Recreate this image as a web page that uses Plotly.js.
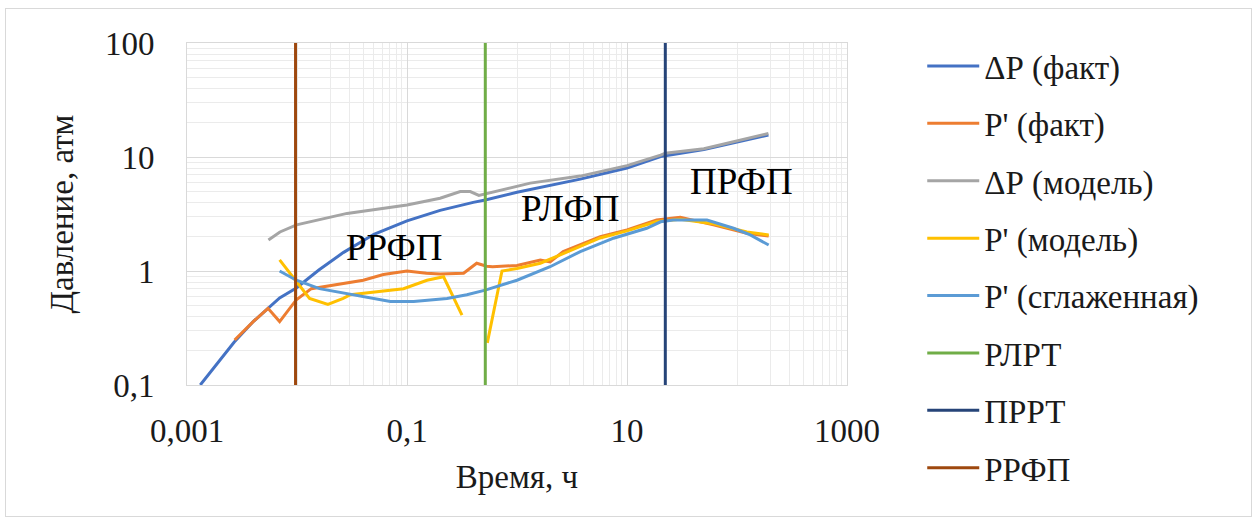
<!DOCTYPE html>
<html>
<head>
<meta charset="utf-8">
<script src="https://cdn.plot.ly/plotly-3.0.1.min.js"></script>
<style>
  html, body { margin: 0; padding: 0; background: #fff; }
  #wrap { position: relative; width: 1259px; height: 524px; }
  #chart { width: 1259px; height: 524px; }
  #frame { position: absolute; left: 5px; top: 8px; width: 1245px; height: 507px;
           border: 1px solid #d9d9d9; pointer-events: none; }
</style>
</head>
<body>
<div id="wrap"><div id="chart"></div><div id="frame"></div></div>
<script>
// ---- data (time in hours, pressure in atm) ----
const tDPfact = [0.00132, 0.0019, 0.00269, 0.004, 0.00545, 0.00695, 0.00986, 0.0158, 0.0263, 0.05, 0.1, 0.2, 0.4, 0.515, 1, 2, 3.76, 10, 20.2, 50, 100, 193];
const dPfact  = [0.1, 0.154, 0.238, 0.36, 0.47, 0.58, 0.71, 1.02, 1.45, 2.1, 2.75, 3.4, 4.0, 4.2, 4.9, 5.6, 6.4, 8.0, 10.1, 11.6, 13.6, 15.6];

const tPfact = [0.00271, 0.004, 0.00545, 0.00695, 0.00986, 0.0135, 0.04, 0.061, 0.1, 0.15, 0.2, 0.327, 0.43, 0.53, 0.6, 1.0, 1.63, 2.0, 2.63, 3.76, 5.71, 10, 18.6, 30.5, 61, 123, 194];
const pFact  = [0.248, 0.36, 0.47, 0.36, 0.56, 0.70, 0.83, 0.93, 1.0, 0.955, 0.94, 0.955, 1.17, 1.1, 1.09, 1.12, 1.25, 1.2, 1.48, 1.69, 2.0, 2.29, 2.8, 2.96, 2.54, 2.14, 2.03];

const tDPmodel = [0.0055, 0.007, 0.0099, 0.0285, 0.1, 0.2, 0.305, 0.376, 0.45, 0.515, 1.32, 3.76, 10, 20.2, 22.3, 50, 100, 193];
const dPmodel  = [1.87, 2.2, 2.54, 3.2, 3.8, 4.35, 4.97, 4.97, 4.6, 4.75, 5.9, 6.8, 8.4, 10.4, 10.8, 11.8, 13.8, 16.1];

const tPmodel = [0.00695, 0.0106, 0.013, 0.0191, 0.0263, 0.0306, 0.057, 0.093, 0.152, 0.215, 0.316, null, 0.537, 0.73, 1.0, 1.63, 2.63, 3.76, 5.7, 10, 18.6, 30.5, 61, 123, 194];
const pModel  = [1.25, 0.75, 0.575, 0.51, 0.575, 0.62, 0.66, 0.70, 0.83, 0.89, 0.41, null, 0.234, 1.0, 1.05, 1.17, 1.42, 1.65, 1.95, 2.25, 2.72, 2.85, 2.6, 2.2, 2.07];

const tPsmooth = [0.00695, 0.00986, 0.016, 0.0263, 0.0705, 0.115, 0.231, 0.35, 0.515, 1.0, 2.0, 3.76, 7.55, 15.1, 20.2, 26.3, 53.3, 93, 132, 194];
const pSmooth  = [1.0, 0.83, 0.70, 0.64, 0.54, 0.54, 0.575, 0.62, 0.68, 0.83, 1.09, 1.48, 1.94, 2.37, 2.7, 2.8, 2.8, 2.37, 2.07, 1.69];

// regime boundaries (time, h) and vertical extent of their markers
const tRLRT = 0.515;
const tPRRT = 22.3;
const tRRFP = 0.0097;
const vExtent = [0.1, 100];

// region labels
const regionNames = ['РРФП', 'РЛФП', 'ПРФП'];
const regionT = [0.0767, 3.05, 109];
const regionP = [1.62, 3.55, 6.07];

// axis ticks
const xTickVals = [0.001, 0.1, 10, 1000];
const xTickText = ['0,001', '0,1', '10', '1000'];
const xMinorVals = [0.01,0.02,0.03,0.04,0.05,0.06,0.07,0.08,0.09, 1,2,3,4,5,6,7,8,9, 100,200,300,400,500,600,700,800,900];
const yTickVals = [0.1, 1, 10, 100];
const yTickText = ['0,1', '1', '10', '100'];
const yMinorVals = [0.2,0.3,0.4,0.5,0.6,0.7,0.8,0.9, 2,3,4,5,6,7,8,9, 20,30,40,50,60,70,80,90];

const FONT = 'Liberation Serif';
const FS = 33;
const TXT = '#1a1a1a';
const W = 3;

function line(name, x, y, color, group) {
  return { type: 'scatter', mode: 'lines', name: name, x: x, y: y,
           line: { color: color, width: W }, connectgaps: false,
           legendgroup: group, hoverinfo: 'x+y+name' };
}

const traces = [
  line('ΔР (факт)', tDPfact, dPfact, '#4472C4', 'g1'),
  line("Р' (факт)", tPfact, pFact, '#ED7D31', 'g2'),
  line('ΔР (модель)', tDPmodel, dPmodel, '#A5A5A5', 'g3'),
  line("Р' (модель)", tPmodel, pModel, '#FFC000', 'g4'),
  line("Р' (сглаженная)", tPsmooth, pSmooth, '#5B9BD5', 'g5'),
  line('РЛРТ', [tRLRT, tRLRT], vExtent, '#70AD47', 'g6'),
  line('ПРРТ', [tPRRT, tPRRT], vExtent, '#264478', 'g7'),
  line('РРФП', [tRRFP, tRRFP], vExtent, '#9E480E', 'g8')
];

const annotations = regionNames.map((s, i) => ({
  text: s, x: Math.log10(regionT[i]), y: Math.log10(regionP[i]),
  xref: 'x', yref: 'y', showarrow: false,
  font: { family: FONT, size: 37, color: '#000' }
}));

const layout = {
  width: 1259, height: 524,
  margin: { l: 186.7, r: 412.3, t: 43, b: 139 },
  paper_bgcolor: '#fff', plot_bgcolor: '#fff',
  font: { family: FONT, size: FS, color: TXT },
  showlegend: true,
  legend: { x: 1.114, xanchor: 'left', y: 1.0146, yanchor: 'top', maxheight: 520,
            font: { family: FONT, size: FS, color: TXT },
            tracegroupgap: 11.5, itemwidth: 52, bgcolor: 'rgba(0,0,0,0)' },
  xaxis: {
    type: 'log', range: [-3, 3],
    tickmode: 'array', tickvals: xTickVals, ticktext: xTickText,
    showgrid: true, gridcolor: '#d9d9d9', gridwidth: 1,
    minor: { tickmode: 'array', tickvals: xMinorVals, showgrid: true, gridcolor: '#ebebeb', gridwidth: 1, ticks: '' },
    showline: true, linecolor: '#d9d9d9', mirror: true, zeroline: false,
    ticks: '', ticklabelstandoff: 16,
    tickfont: { family: FONT, size: FS, color: TXT },
    title: { text: 'Время, ч', font: { family: FONT, size: FS, color: TXT }, standoff: 17 }
  },
  yaxis: {
    type: 'log', range: [-1, 2],
    tickmode: 'array', tickvals: yTickVals, ticktext: yTickText,
    showgrid: true, gridcolor: '#d9d9d9', gridwidth: 1,
    minor: { tickmode: 'array', tickvals: yMinorVals, showgrid: true, gridcolor: '#ebebeb', gridwidth: 1, ticks: '' },
    showline: true, linecolor: '#d9d9d9', mirror: true, zeroline: false,
    ticks: '', ticklabelstandoff: 25,
    tickfont: { family: FONT, size: FS, color: TXT },
    title: { text: 'Давление, атм', font: { family: FONT, size: FS, color: TXT }, standoff: 21 }
  },
  annotations: annotations
};

Plotly.newPlot('chart', traces, layout, { displayModeBar: false, staticPlot: true });
</script>
</body>
</html>
